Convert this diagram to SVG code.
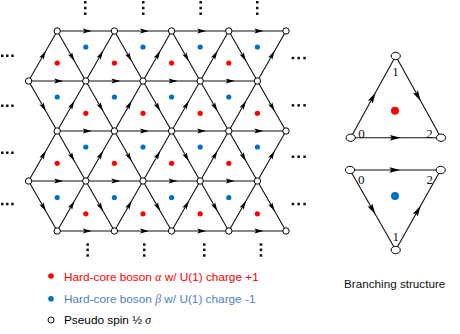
<svg xmlns="http://www.w3.org/2000/svg" xmlns:xlink="http://www.w3.org/1999/xlink" width="460" height="334" viewBox="0 0 460 334">
<style>
.e{fill:none;stroke:#111;stroke-width:1.1;marker-mid:url(#ah)}
.b{fill:none;stroke:#111;stroke-width:1.1;marker-mid:url(#ah2)}
.v{fill:#fff;stroke:#000;stroke-width:1}
.r{fill:#ff0000}
.u{fill:#0070c0}
.d{fill:#111}
.t{font-family:"Liberation Sans",Arial,sans-serif;font-size:11.8px}
.n{font-family:"Liberation Serif","Times New Roman",serif;font-size:13px;fill:#111;text-anchor:middle}
.g{font-family:"Liberation Serif","Times New Roman",serif;font-style:italic}
</style>
<defs>
<marker id="ah" markerWidth="10" markerHeight="6" refX="3" refY="2.4" orient="auto" markerUnits="userSpaceOnUse" overflow="visible"><path d="M0,0 L9,2.4 L0,4.8 L1.8,2.4 z" fill="#000"/></marker>
<marker id="ah2" markerWidth="12" markerHeight="6" refX="6" refY="2.8" orient="auto" markerUnits="userSpaceOnUse" overflow="visible"><path d="M0,0 L11,2.8 L0,5.6 L2,2.8 z" fill="#000"/></marker>
<rect id="sq" width="2.5" height="2.5"/>
</defs>
<rect width="460" height="334" fill="#fff"/>
<g id="connectors">
<path class="e" d="M57.2 31 L85.8 31 L114.4 31"/><path class="e" d="M114.4 31 L143 31 L171.6 31"/><path class="e" d="M171.6 31 L200.2 31 L228.8 31"/><path class="e" d="M228.8 31 L257.4 31 L286 31"/>
<path class="e" d="M28.6 81 L57.2 81 L85.8 81"/><path class="e" d="M85.8 81 L114.4 81 L143 81"/><path class="e" d="M143 81 L171.6 81 L200.2 81"/><path class="e" d="M200.2 81 L228.8 81 L257.4 81"/>
<path class="e" d="M57.2 131 L85.8 131 L114.4 131"/><path class="e" d="M114.4 131 L143 131 L171.6 131"/><path class="e" d="M171.6 131 L200.2 131 L228.8 131"/><path class="e" d="M228.8 131 L257.4 131 L286 131"/>
<path class="e" d="M28.6 181 L57.2 181 L85.8 181"/><path class="e" d="M85.8 181 L114.4 181 L143 181"/><path class="e" d="M143 181 L171.6 181 L200.2 181"/><path class="e" d="M200.2 181 L228.8 181 L257.4 181"/>
<path class="e" d="M57.2 231 L85.8 231 L114.4 231"/><path class="e" d="M114.4 231 L143 231 L171.6 231"/><path class="e" d="M171.6 231 L200.2 231 L228.8 231"/><path class="e" d="M228.8 231 L257.4 231 L286 231"/>
<path class="e" d="M28.6 81 L42.9 56 L57.2 31"/><path class="e" d="M85.8 81 L100.1 56 L114.4 31"/><path class="e" d="M143 81 L157.3 56 L171.6 31"/><path class="e" d="M200.2 81 L214.5 56 L228.8 31"/><path class="e" d="M257.4 81 L271.7 56 L286 31"/>
<path class="e" d="M57.2 31 L71.5 56 L85.8 81"/><path class="e" d="M114.4 31 L128.7 56 L143 81"/><path class="e" d="M171.6 31 L185.9 56 L200.2 81"/><path class="e" d="M228.8 31 L243.1 56 L257.4 81"/>
<path class="e" d="M28.6 81 L42.9 106 L57.2 131"/><path class="e" d="M85.8 81 L100.1 106 L114.4 131"/><path class="e" d="M143 81 L157.3 106 L171.6 131"/><path class="e" d="M200.2 81 L214.5 106 L228.8 131"/><path class="e" d="M257.4 81 L271.7 106 L286 131"/>
<path class="e" d="M57.2 131 L71.5 106 L85.8 81"/><path class="e" d="M114.4 131 L128.7 106 L143 81"/><path class="e" d="M171.6 131 L185.9 106 L200.2 81"/><path class="e" d="M228.8 131 L243.1 106 L257.4 81"/>
<path class="e" d="M28.6 181 L42.9 156 L57.2 131"/><path class="e" d="M85.8 181 L100.1 156 L114.4 131"/><path class="e" d="M143 181 L157.3 156 L171.6 131"/><path class="e" d="M200.2 181 L214.5 156 L228.8 131"/><path class="e" d="M257.4 181 L271.7 156 L286 131"/>
<path class="e" d="M57.2 131 L71.5 156 L85.8 181"/><path class="e" d="M114.4 131 L128.7 156 L143 181"/><path class="e" d="M171.6 131 L185.9 156 L200.2 181"/><path class="e" d="M228.8 131 L243.1 156 L257.4 181"/>
<path class="e" d="M28.6 181 L42.9 206 L57.2 231"/><path class="e" d="M85.8 181 L100.1 206 L114.4 231"/><path class="e" d="M143 181 L157.3 206 L171.6 231"/><path class="e" d="M200.2 181 L214.5 206 L228.8 231"/><path class="e" d="M257.4 181 L271.7 206 L286 231"/>
<path class="e" d="M57.2 231 L71.5 206 L85.8 181"/><path class="e" d="M114.4 231 L128.7 206 L143 181"/><path class="e" d="M171.6 231 L185.9 206 L200.2 181"/><path class="e" d="M228.8 231 L243.1 206 L257.4 181"/>
<path class="b" d="M350.7 137.7 L373.2 96.85 L395.7 56"/><path class="b" d="M395.7 56 L418.35 96.85 L441 137.7"/><path class="b" d="M350.7 137.7 L395.85 137.7 L441 137.7"/>
<path class="b" d="M350 170 L372.85 210 L395.7 250"/><path class="b" d="M395.7 250 L418.2 210 L440.7 170"/><path class="b" d="M350 170 L395.35 170 L440.7 170"/>
</g>
<g id="charges">
<circle class="r" cx="57.2" cy="63" r="2.6"/><circle class="r" cx="114.4" cy="63" r="2.6"/><circle class="r" cx="171.6" cy="63" r="2.6"/><circle class="r" cx="228.8" cy="63" r="2.6"/>
<circle class="u" cx="85.8" cy="47" r="2.6"/><circle class="u" cx="143" cy="47" r="2.6"/><circle class="u" cx="200.2" cy="47" r="2.6"/><circle class="u" cx="257.4" cy="47" r="2.6"/>
<circle class="u" cx="57.2" cy="97" r="2.6"/><circle class="u" cx="114.4" cy="97" r="2.6"/><circle class="u" cx="171.6" cy="97" r="2.6"/><circle class="u" cx="228.8" cy="97" r="2.6"/>
<circle class="r" cx="85.8" cy="113.3" r="2.6"/><circle class="r" cx="143" cy="113.3" r="2.6"/><circle class="r" cx="200.2" cy="113.3" r="2.6"/><circle class="r" cx="257.4" cy="113.3" r="2.6"/>
<circle class="r" cx="57.2" cy="163.3" r="2.6"/><circle class="r" cx="114.4" cy="163.3" r="2.6"/><circle class="r" cx="171.6" cy="163.3" r="2.6"/><circle class="r" cx="228.8" cy="163.3" r="2.6"/>
<circle class="u" cx="85.8" cy="147" r="2.6"/><circle class="u" cx="143" cy="147" r="2.6"/><circle class="u" cx="200.2" cy="147" r="2.6"/><circle class="u" cx="257.4" cy="147" r="2.6"/>
<circle class="u" cx="57.2" cy="197.5" r="2.6"/><circle class="u" cx="114.4" cy="197.5" r="2.6"/><circle class="u" cx="171.6" cy="197.5" r="2.6"/><circle class="u" cx="228.8" cy="197.5" r="2.6"/>
<circle class="r" cx="85.8" cy="213.8" r="2.6"/><circle class="r" cx="143" cy="213.8" r="2.6"/><circle class="r" cx="200.2" cy="213.8" r="2.6"/><circle class="r" cx="257.4" cy="213.8" r="2.6"/>
<circle class="r" cx="395" cy="110.7" r="4"/>
<circle class="u" cx="395" cy="196" r="4"/>
</g>
<g id="nodes">
<g id="v0-0"><circle class="v" cx="57.2" cy="31" r="3.2"/></g><g id="v0-1"><circle class="v" cx="114.4" cy="31" r="3.2"/></g><g id="v0-2"><circle class="v" cx="171.6" cy="31" r="3.2"/></g><g id="v0-3"><circle class="v" cx="228.8" cy="31" r="3.2"/></g><g id="v0-4"><circle class="v" cx="286" cy="31" r="3.2"/></g>
<g id="v1-0"><circle class="v" cx="28.6" cy="81" r="3.2"/></g><g id="v1-1"><circle class="v" cx="85.8" cy="81" r="3.2"/></g><g id="v1-2"><circle class="v" cx="143" cy="81" r="3.2"/></g><g id="v1-3"><circle class="v" cx="200.2" cy="81" r="3.2"/></g><g id="v1-4"><circle class="v" cx="257.4" cy="81" r="3.2"/></g>
<g id="v2-0"><circle class="v" cx="57.2" cy="131" r="3.2"/></g><g id="v2-1"><circle class="v" cx="114.4" cy="131" r="3.2"/></g><g id="v2-2"><circle class="v" cx="171.6" cy="131" r="3.2"/></g><g id="v2-3"><circle class="v" cx="228.8" cy="131" r="3.2"/></g><g id="v2-4"><circle class="v" cx="286" cy="131" r="3.2"/></g>
<g id="v3-0"><circle class="v" cx="28.6" cy="181" r="3.2"/></g><g id="v3-1"><circle class="v" cx="85.8" cy="181" r="3.2"/></g><g id="v3-2"><circle class="v" cx="143" cy="181" r="3.2"/></g><g id="v3-3"><circle class="v" cx="200.2" cy="181" r="3.2"/></g><g id="v3-4"><circle class="v" cx="257.4" cy="181" r="3.2"/></g>
<g id="v4-0"><circle class="v" cx="57.2" cy="231" r="3.2"/></g><g id="v4-1"><circle class="v" cx="114.4" cy="231" r="3.2"/></g><g id="v4-2"><circle class="v" cx="171.6" cy="231" r="3.2"/></g><g id="v4-3"><circle class="v" cx="228.8" cy="231" r="3.2"/></g><g id="v4-4"><circle class="v" cx="286" cy="231" r="3.2"/></g>
<g id="bu-1"><ellipse class="v" cx="395.7" cy="56" rx="4.6" ry="3.7"/><text class="n" x="395.6" y="76">1</text></g>
<g id="bu-0"><ellipse class="v" cx="350.7" cy="137.7" rx="4.6" ry="3.7"/><text class="n" x="361.6" y="138.2">0</text></g>
<g id="bu-2"><ellipse class="v" cx="441" cy="137.7" rx="4.6" ry="3.7"/><text class="n" x="429.4" y="138.2">2</text></g>
<g id="bd-0"><ellipse class="v" cx="350" cy="170" rx="4.6" ry="3.7"/><text class="n" x="361.2" y="184.4">0</text></g>
<g id="bd-2"><ellipse class="v" cx="440.7" cy="170" rx="4.6" ry="3.7"/><text class="n" x="429.7" y="183.6">2</text></g>
<g id="bd-1"><ellipse class="v" cx="395.7" cy="250" rx="4.6" ry="3.7"/><text class="n" x="395.7" y="241">1</text></g>
</g>
<g id="ellipses" class="d">
<use href="#sq" x="1" y="54.5"/><use href="#sq" x="6" y="54.5"/><use href="#sq" x="11.2" y="54.5"/>
<use href="#sq" x="1" y="104.5"/><use href="#sq" x="6" y="104.5"/><use href="#sq" x="11.2" y="104.5"/>
<use href="#sq" x="1" y="151.5"/><use href="#sq" x="6" y="151.5"/><use href="#sq" x="11.2" y="151.5"/>
<use href="#sq" x="1" y="202.8"/><use href="#sq" x="6" y="202.8"/><use href="#sq" x="11.2" y="202.8"/>
<use href="#sq" x="291.7" y="56.8"/><use href="#sq" x="297.4" y="56.8"/><use href="#sq" x="303.3" y="56.8"/>
<use href="#sq" x="291.7" y="104.1"/><use href="#sq" x="297.4" y="104.1"/><use href="#sq" x="303.3" y="104.1"/>
<use href="#sq" x="291.7" y="155.5"/><use href="#sq" x="297.4" y="155.5"/><use href="#sq" x="303.3" y="155.5"/>
<use href="#sq" x="291.7" y="202.8"/><use href="#sq" x="297.4" y="202.8"/><use href="#sq" x="303.3" y="202.8"/>
<use href="#sq" x="84" y="1"/><use href="#sq" x="84" y="6.8"/><use href="#sq" x="84" y="12.5"/>
<use href="#sq" x="142" y="1"/><use href="#sq" x="142" y="6.8"/><use href="#sq" x="142" y="12.5"/>
<use href="#sq" x="199.4" y="1"/><use href="#sq" x="199.4" y="6.8"/><use href="#sq" x="199.4" y="12.5"/>
<use href="#sq" x="256" y="1"/><use href="#sq" x="256" y="6.8"/><use href="#sq" x="256" y="12.5"/>
<use href="#sq" x="86.4" y="243.3"/><use href="#sq" x="86.4" y="248.6"/><use href="#sq" x="86.4" y="254.2"/>
<use href="#sq" x="143" y="243.3"/><use href="#sq" x="143" y="248.6"/><use href="#sq" x="143" y="254.2"/>
<use href="#sq" x="203" y="243.3"/><use href="#sq" x="203" y="248.6"/><use href="#sq" x="203" y="254.2"/>
<use href="#sq" x="259.7" y="243.3"/><use href="#sq" x="259.7" y="248.6"/><use href="#sq" x="259.7" y="254.2"/>
</g>
<g id="legend">
<circle class="r" cx="51" cy="276" r="2.8"/>
<text class="t" x="64" y="280.7" fill="#ff0000">Hard-core boson <tspan class="g">α</tspan> w/ U(1) charge +1</text>
<circle class="u" cx="51" cy="298.7" r="2.8"/>
<text class="t" x="64" y="303.3" fill="#4f81bd">Hard-core boson <tspan class="g">β</tspan> w/ U(1) charge -1</text>
<circle class="v" cx="51" cy="320" r="3"/>
<text class="t" x="64" y="324" fill="#000">Pseudo spin ½ <tspan class="g">σ</tspan></text>
<text class="t" x="344" y="288.3" fill="#111" style="font-size:11.7px">Branching structure</text>
</g>
</svg>
